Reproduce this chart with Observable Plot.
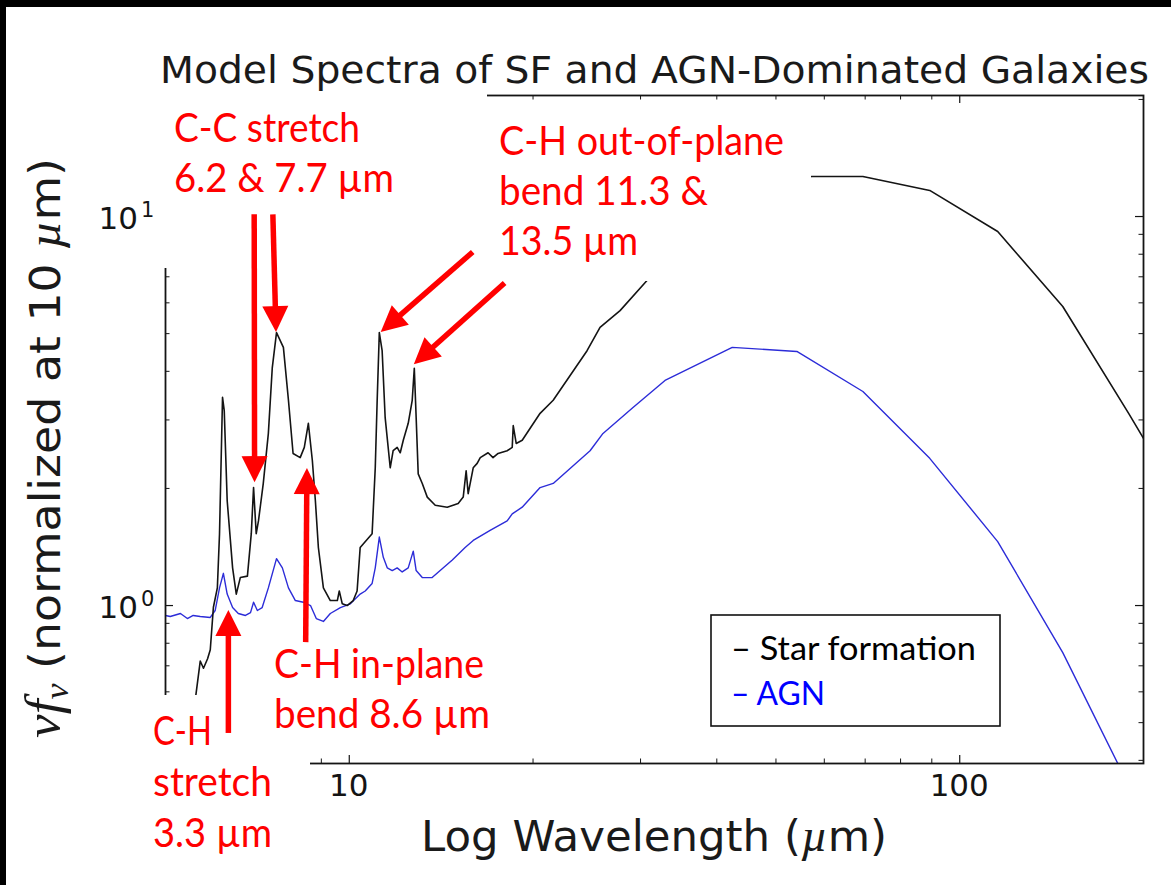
<!DOCTYPE html>
<html><head><meta charset="utf-8">
<script src="https://cdn.jsdelivr.net/npm/d3@7"></script>
<script src="https://cdn.jsdelivr.net/npm/@observablehq/plot@0.6"></script>
<style>
html,body{margin:0;padding:0;background:#fff;width:1171px;height:885px;overflow:hidden;position:relative}
#chart{position:absolute;left:0;top:0}
.bar-top{position:absolute;left:0;top:0;width:1171px;height:7px;background:#000}
.bar-left{position:absolute;left:0;top:0;width:6px;height:885px;background:#000}
</style></head><body>
<div id="chart"></div><div class="bar-top"></div><div class="bar-left"></div>
<script>
// ---------- data ----------
const sfWavelength = [5.00,5.29,5.49,5.60,5.70,5.77,5.86,5.92,5.99,6.08,6.13,6.20,6.24,6.31,6.44,6.53,6.63,6.81,6.91,6.97,7.04,7.10,7.23,7.37,7.48,7.60,7.80,7.95,8.09,8.31,8.44,8.57,8.70,8.80,8.90,9.07,9.31,9.56,9.63,9.74,9.92,10.15,10.30,10.42,10.54,10.74,10.90,11.03,11.11,11.20,11.32,11.45,11.67,11.80,11.98,12.12,12.26,12.49,12.68,12.78,12.87,12.97,13.17,13.42,13.83,14.47,15.08,15.37,15.54,15.66,15.96,16.20,16.39,16.88,17.20,17.53,18.14,18.49,18.56,18.77,19.20,20.54,21.58,24.52,25.75,27.77,30.74,32.9,42.4,54.1,57.3,69.4,89.3,115.4,147.5,189.1,200];
const sfFlux = [0.40,0.46,0.54,0.58,0.72,0.69,0.73,0.77,0.99,1.11,1.53,3.43,3.17,1.86,1.25,1.07,1.18,1.19,1.53,2.01,1.53,1.65,2.06,2.77,4.09,5.03,4.61,3.37,2.46,2.40,2.55,2.94,2.36,1.86,1.41,1.11,1.03,1.03,1.09,1.01,1.00,1.03,1.09,1.41,1.44,1.49,1.53,2.26,3.37,5.03,4.52,3.04,2.26,2.50,2.55,2.47,2.66,2.94,3.37,4.07,3.04,2.18,2.06,1.90,1.81,1.79,1.83,1.90,2.22,1.94,2.26,2.32,2.40,2.47,2.40,2.46,2.50,2.55,2.90,2.61,2.66,3.12,3.37,4.52,5.19,5.73,6.85,7.62,10.67,12.6,12.67,12.67,11.67,9.15,5.87,3.12,2.69];
const agnWavelength = [5.00,5.09,5.29,5.43,5.55,5.70,5.92,6.03,6.13,6.22,6.31,6.44,6.58,6.76,6.89,6.97,7.07,7.20,7.37,7.60,7.77,7.95,8.16,8.41,8.64,8.83,9.07,9.31,9.67,10.04,10.42,10.62,10.90,11.03,11.20,11.37,11.54,11.76,11.98,12.21,12.49,12.73,12.87,13.17,13.67,14.09,14.75,15.48,15.96,17.01,18.14,18.49,19.20,20.54,21.58,24.80,26.04,29.16,32.9,42.4,54.1,69.4,89.3,115.4,147.5,189.1,200];
const agnFlux = [0.943,0.937,0.954,0.926,0.943,0.937,0.932,0.971,1.11,1.21,1.07,0.988,0.954,0.943,0.959,1.02,0.971,0.988,1.11,1.32,1.25,1.11,1.03,1.02,1.00,0.926,0.910,0.954,0.988,1.01,1.07,1.09,1.14,1.25,1.50,1.33,1.25,1.23,1.25,1.22,1.25,1.38,1.23,1.18,1.18,1.23,1.31,1.41,1.47,1.56,1.65,1.72,1.79,2.01,2.06,2.50,2.77,3.23,3.79,4.61,4.50,3.55,2.39,1.46,0.757,0.345,0.28];

const xMajorTicks = [10, 100];
const xTickLabels = ["10", "100"];
const xMinorTicks = [6,7,8,9,20,30,40,50,60,70,80,90];
const yMajorTicks = [1, 10];
const yTickBase = ["10", "10"];
const yTickExp = ["0", "1"];
const yMinorTicks = [0.4,0.5,0.6,0.7,0.8,0.9,2,3,4,5,6,7,8,9,20];

const titleText = "Model Spectra of SF and AGN-Dominated Galaxies";
const seriesNames = ["Star formation", "AGN"];

// annotation arrows: tail (wavelength, flux) -> tip (wavelength, flux)
const arrowTailX = [7.00, 7.51, 15.96, 18.0, 8.50, 6.35];
const arrowTailY = [10.1, 10.1, 8.08, 6.73, 0.803, 0.469];
const arrowTipX  = [7.01, 7.60, 11.28, 12.78, 8.54, 6.35];
const arrowTipY  = [2.07, 5.03, 5.03, 4.16, 2.25, 0.971];

const annotationLines = [
  "C-C stretch", "6.2 & 7.7 µm",
  "C-H out-of-plane", "bend 11.3 &", "13.5 µm",
  "C-H in-plane", "bend 8.6 µm",
  "C-H", "stretch", "3.3 µm"
];

(function(){
// ---------- layout (pixels) ----------
const W = 1171, H = 885, mL = 165, mR = 28, mT = 95, mB = 122;
const innerW = W - mL - mR, innerH = H - mT - mB;
const annLayout = [ // x, baseline, width
  [174,142,186],[174,192,220],
  [499,155,285],[499,205,209],[499,255,139],
  [274,678,210],[274,728,216],
  [153,745,59],[153,796,119],[153,847,119]
];
const occluders = [ // x, y, w, h  (white label boxes covering the axes)
  [156,92,331,176],[490,108,321,173],[140,695,170,190],[268,645,229,95]
];

const sf = sfWavelength.map((x,i)=>({x, y: sfFlux[i]}));
const agn = agnWavelength.map((x,i)=>({x, y: agnFlux[i]}));

const ink = "#141414";
const chart = Plot.plot({
  width: W, height: H,
  marginLeft: mL, marginRight: mR, marginTop: mT, marginBottom: mB,
  x: {type: "log", domain: [5, 200], axis: null},
  y: {type: "log", domain: [0.3926, 20.47], axis: null},
  style: {background: "white", overflow: "visible"},
  marks: [
    Plot.line(agn, {x: "x", y: "y", stroke: "#2c2cd8", strokeWidth: 1.4, clip: true}),
    Plot.line(sf, {x: "x", y: "y", stroke: "#141414", strokeWidth: 1.6, clip: true}),
    Plot.tickX(xMajorTicks, {x: d=>d, insetTop: innerH-8, stroke: ink, strokeWidth: 1.2}),
    Plot.tickX(xMajorTicks, {x: d=>d, insetBottom: innerH-8, stroke: ink, strokeWidth: 1.2}),
    Plot.tickX(xMinorTicks, {x: d=>d, insetTop: innerH-4.5, stroke: ink, strokeWidth: 1}),
    Plot.tickX(xMinorTicks, {x: d=>d, insetBottom: innerH-4.5, stroke: ink, strokeWidth: 1}),
    Plot.tickY(yMajorTicks, {y: d=>d, insetRight: innerW-8, stroke: ink, strokeWidth: 1.2}),
    Plot.tickY(yMajorTicks, {y: d=>d, insetLeft: innerW-8, stroke: ink, strokeWidth: 1.2}),
    Plot.tickY(yMinorTicks, {y: d=>d, insetRight: innerW-4.5, stroke: ink, strokeWidth: 1}),
    Plot.tickY(yMinorTicks, {y: d=>d, insetLeft: innerW-4.5, stroke: ink, strokeWidth: 1}),
    Plot.frame({stroke: ink, strokeWidth: 1.8})
  ]
});
document.getElementById("chart").appendChild(chart);

const xs = chart.scale("x"), ys = chart.scale("y");
const overlay = d3.select(chart).append("g").attr("text-anchor", "start");

function addText(o) {
  const t = overlay.append("text")
    .attr("x", o.x).attr("y", o.y)
    .attr("font-family", o.family).attr("font-size", o.size)
    .attr("fill", o.fill || ink)
    .attr("text-anchor", o.anchor || "start");
  if (o.rotate) t.attr("transform", `rotate(${o.rotate},${o.x},${o.y})`);
  const parts = o.parts || [{text: o.text}];
  for (const p of parts) {
    const s = t.append("tspan").text(p.text);
    if (p.family) s.attr("font-family", p.family);
    if (p.italic) s.attr("font-style", "italic");
    if (p.size) s.attr("font-size", p.size);
    if (p.dy) s.attr("dy", p.dy);
    if (p.fill) s.attr("fill", p.fill);
  }
  if (o.len) t.attr("textLength", o.len).attr("lengthAdjust", "spacingAndGlyphs");
  return t;
}

for (const [x,y,w,h] of occluders) overlay.append("rect").attr("x",x).attr("y",y).attr("width",w).attr("height",h).attr("fill","white");

xMajorTicks.forEach((v,i)=> addText({x: xs.apply(v), y: 796, text: xTickLabels[i], size: 31, family: "DejaVu Sans", anchor: "middle"}));
yMajorTicks.forEach((v,i)=> {
  const py = ys.apply(v);
  addText({x: 138, y: py + 13, text: yTickBase[i], size: 31, family: "DejaVu Sans", anchor: "end"});
  addText({x: 141, y: py + 1, text: yTickExp[i], size: 21, family: "DejaVu Sans"});
});

addText({x: 160, y: 83, text: titleText, size: 37, family: "DejaVu Sans", len: 989, fill: "#1a1a1a"});
addText({x: 421, y: 851, size: 43, family: "DejaVu Sans", len: 466, fill: "#1a1a1a",
  parts: [{text: "Log Wavelength ("}, {text: "µ", family: "Liberation Serif", italic: true, size: 46}, {text: "m)"}]});
addText({x: 60, y: 738, size: 43, family: "DejaVu Sans", rotate: -90, len: 580, fill: "#1a1a1a",
  parts: [
    {text: "ν", family: "Liberation Serif", italic: true, size: 50},
    {text: "f", family: "Liberation Serif", italic: true, size: 50},
    {text: "ν", family: "Liberation Serif", italic: true, size: 34, dy: 8},
    {text: " (normalized at 10 ", dy: -8},
    {text: "µ", family: "Liberation Serif", italic: true, size: 46},
    {text: "m)"}
  ]});

const red = "#ff0000";
arrowTailX.forEach((_, i) => {
  const x1 = xs.apply(arrowTailX[i]), y1 = ys.apply(arrowTailY[i]);
  const x2 = xs.apply(arrowTipX[i]), y2 = ys.apply(arrowTipY[i]);
  const dx = x2-x1, dy = y2-y1, L = Math.hypot(dx,dy), ux = dx/L, uy = dy/L;
  const hl = 26, hw = 13;
  const bx = x2 - ux*hl, by = y2 - uy*hl;
  overlay.append("line").attr("x1",x1).attr("y1",y1).attr("x2",bx+ux*2).attr("y2",by+uy*2)
    .attr("stroke",red).attr("stroke-width",5.5);
  overlay.append("polygon").attr("points", `${x2},${y2} ${bx - uy*hw},${by + ux*hw} ${bx + uy*hw},${by - ux*hw}`).attr("fill", red);
});

annotationLines.forEach((s,i)=>{
  const [x,y,w] = annLayout[i];
  addText({x, y, text: s, size: 40, family: "Lato", fill: red, len: w});
});

overlay.append("rect").attr("x",711).attr("y",615).attr("width",289).attr("height",111)
  .attr("fill","white").attr("stroke","#111").attr("stroke-width",1.6);
addText({x: 731, y: 660, text: "– " + seriesNames[0], size: 33, family: "Lato", fill: "#000", len: 245});
addText({x: 731, y: 705, text: "– " + seriesNames[1], size: 33, family: "Lato", fill: "#0000ff", len: 94});
})();
</script></body></html>
